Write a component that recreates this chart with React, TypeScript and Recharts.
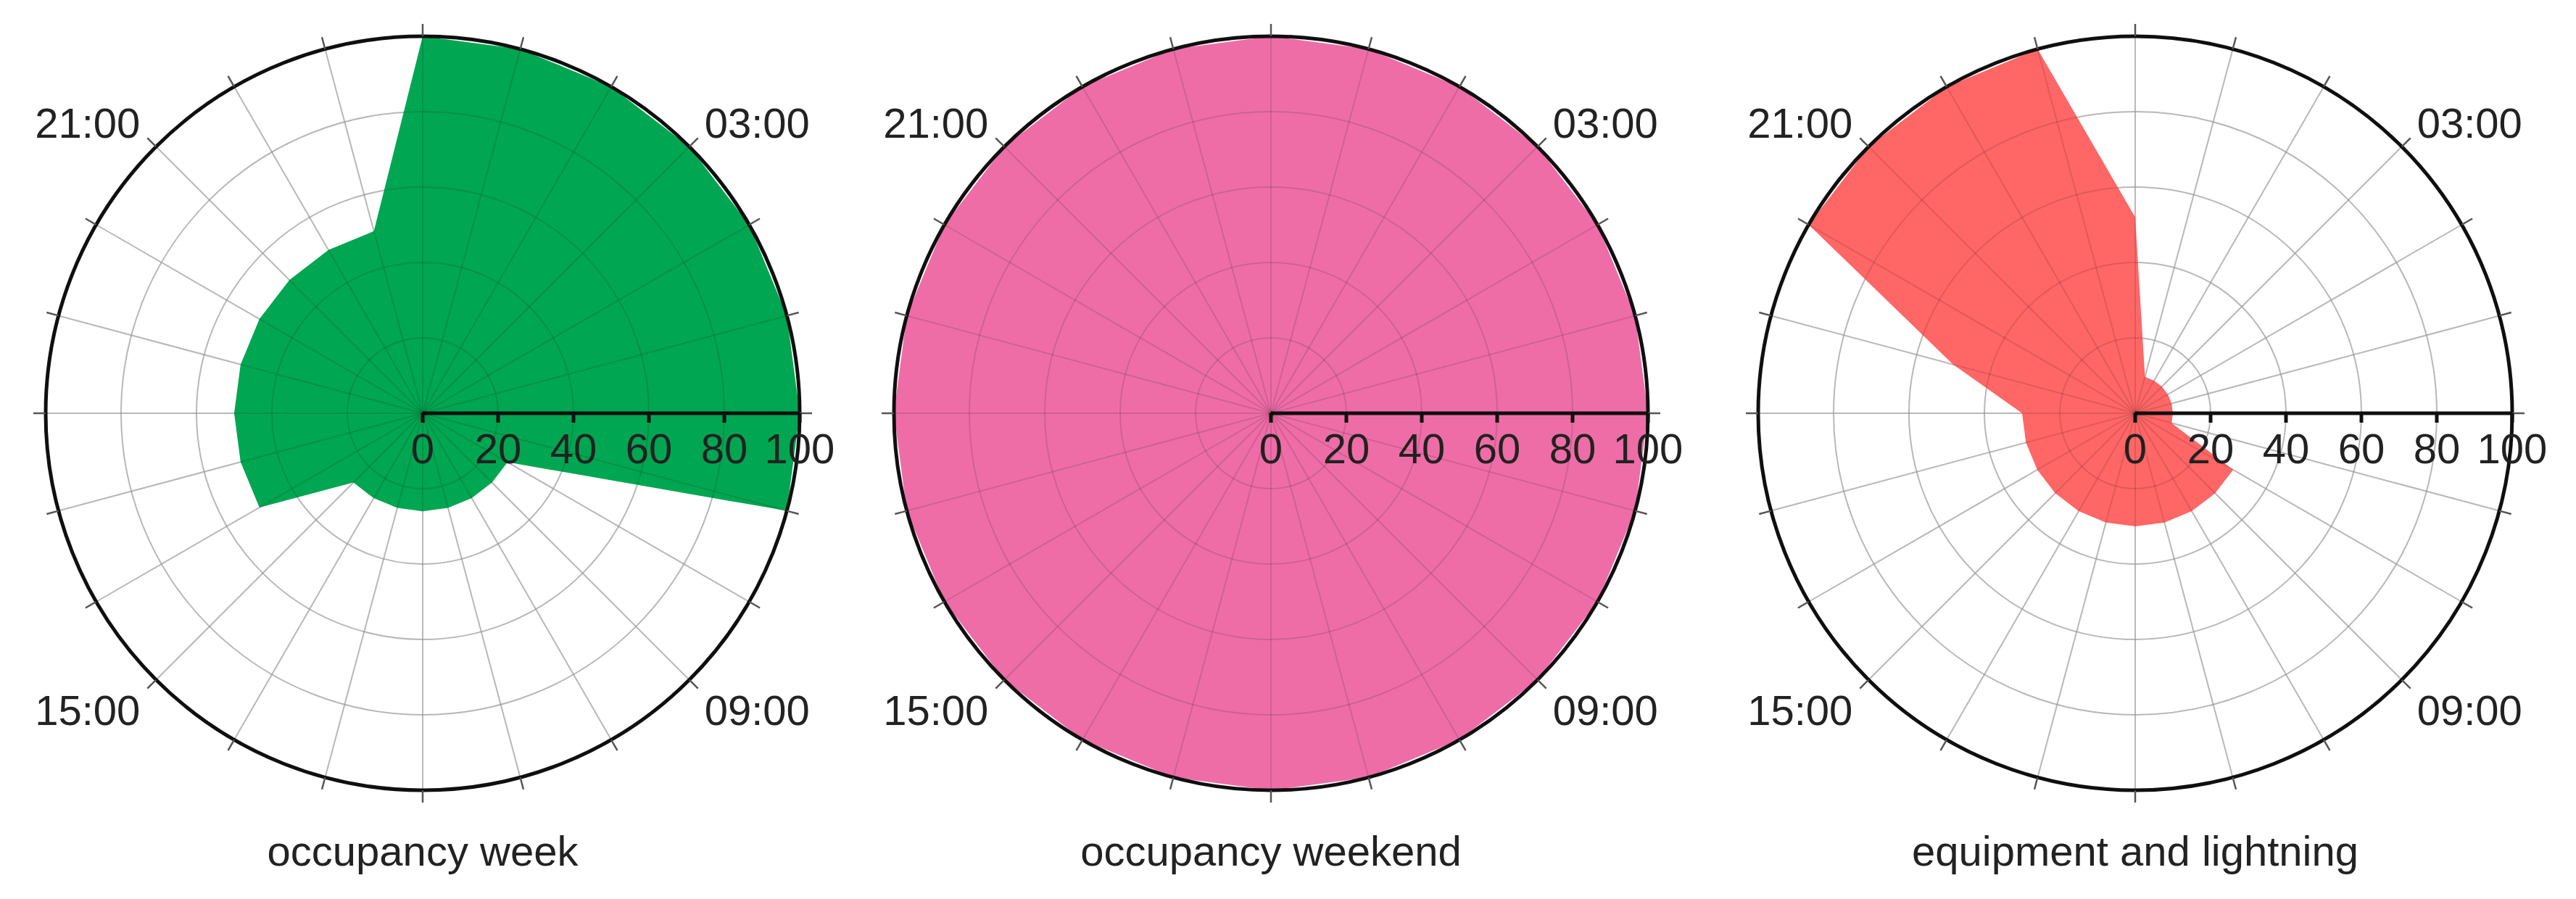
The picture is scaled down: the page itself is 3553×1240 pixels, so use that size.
import React from 'react';
import { RadarChart, Radar, PolarGrid, PolarAngleAxis, PolarRadiusAxis } from 'recharts';

const HOURS = [
  '00:00', '01:00', '02:00', '03:00', '04:00', '05:00', '06:00', '07:00',
  '08:00', '09:00', '10:00', '11:00', '12:00', '13:00', '14:00', '15:00',
  '16:00', '17:00', '18:00', '19:00', '20:00', '21:00', '22:00', '23:00',
];

const OCCUPANCY_WEEK = [100, 100, 100, 100, 100, 100, 100, 100, 26, 26, 26, 26, 26, 26, 26, 26, 50, 50, 50, 50, 50, 50, 50, 50];
const OCCUPANCY_WEEKEND = [100, 100, 100, 100, 100, 100, 100, 100, 100, 100, 100, 100, 100, 100, 100, 100, 100, 100, 100, 100, 100, 100, 100, 100];
const EQUIPMENT_LIGHTING = [52, 10, 10, 10, 10, 10, 10, 10, 30, 30, 30, 30, 30, 30, 30, 30, 30, 30, 30, 50, 100, 100, 100, 100];

const RADIUS_TICKS = [0, 20, 40, 60, 80, 100];
const LABELED_HOURS = ['03:00', '09:00', '15:00', '21:00'];

const TITLES = ['occupancy week', 'occupancy weekend', 'equipment and lightning'];
const COLORS = ['#00A651', '#EE6DA7', '#FF6666'];
const SERIES = [OCCUPANCY_WEEK, OCCUPANCY_WEEKEND, EQUIPMENT_LIGHTING];
const CENTERS_X = [583, 1753, 2945];

const FONT = '"Liberation Sans", Arial, Helvetica, sans-serif';
const CHART_W = 1200;
const CHART_H = 1240;
const CY = 570;
const OUTER_R = 520;

function AngleTick(props: any) {
  const { x, y, payload, textAnchor } = props;
  if (!LABELED_HOURS.includes(payload.value)) return <g />;
  const upper = Math.sin((payload.coordinate * Math.PI) / 180) > 0;
  const right = textAnchor === 'start';
  return (
    <text
      x={x + (right ? 9 : -10)}
      y={upper ? y : y + 50}
      textAnchor={textAnchor}
      fontSize={58}
      fontFamily={FONT}
      fill="#222"
    >
      {payload.value}
    </text>
  );
}

function RadiusTick(props: any) {
  const { x, y, payload } = props;
  return (
    <g>
      <line x1={x} y1={y} x2={x} y2={y + 13} stroke="#111" strokeWidth={5} />
      <text x={x} y={y + 69} textAnchor="middle" fontSize={58} fontFamily={FONT} fill="#222">
        {payload.value}
      </text>
    </g>
  );
}

function Polar({ idx }: { idx: number }) {
  const data = HOURS.map((h, i) => ({ hour: h, value: SERIES[idx][i] }));
  const left = CENTERS_X[idx] - CHART_W / 2;
  const common = {
    width: CHART_W,
    height: CHART_H,
    data,
    cx: CHART_W / 2,
    cy: CY,
    outerRadius: OUTER_R,
    margin: { top: 0, right: 0, bottom: 0, left: 0 },
  };
  return (
    <div style={{ position: 'absolute', left, top: 0, width: CHART_W, height: CHART_H }}>
      <div style={{ position: 'absolute', left: 0, top: 0 }}>
        <RadarChart {...common}>
          <PolarGrid gridType="circle" stroke="#d2d2d2" strokeWidth={2} />
          <Radar
            dataKey="value"
            fill={COLORS[idx]}
            fillOpacity={1}
            stroke="none"
            dot={false}
            isAnimationActive={false}
          />
          <PolarAngleAxis
            dataKey="hour"
            axisLineType="circle"
            axisLine={{ stroke: '#111', strokeWidth: 5 }}
            tickLine={{ stroke: '#555', strokeWidth: 2.5 }}
            tickSize={17}
            tick={AngleTick}
          />
          <PolarRadiusAxis
            angle={0}
            type="number"
            domain={[0, 100]}
            ticks={RADIUS_TICKS}
            axisLine={{ stroke: '#111', strokeWidth: 5 }}
            tickLine={false}
            tick={RadiusTick}
          />
        </RadarChart>
      </div>
      <div style={{ position: 'absolute', left: 0, top: 0, pointerEvents: 'none' }}>
        <RadarChart {...common}>
          <PolarGrid gridType="circle" stroke="#000" strokeOpacity={0.12} strokeWidth={2} />
          <Radar
            dataKey="value"
            fill="none"
            fillOpacity={0}
            stroke="none"
            dot={false}
            isAnimationActive={false}
          />
          <PolarAngleAxis dataKey="hour" axisLine={false} tickLine={false} tick={false} />
          <PolarRadiusAxis
            angle={0}
            type="number"
            domain={[0, 100]}
            ticks={RADIUS_TICKS}
            axisLine={false}
            tickLine={false}
            tick={false}
          />
        </RadarChart>
      </div>
      <div
        style={{
          position: 'absolute',
          left: 0,
          top: 1145,
          width: CHART_W,
          textAlign: 'center',
          fontSize: 58,
          lineHeight: '58px',
          fontFamily: FONT,
          color: '#222',
        }}
      >
        {TITLES[idx]}
      </div>
    </div>
  );
}

export default function App() {
  return (
    <div
      style={{
        position: 'absolute',
        left: 0,
        top: 0,
        width: 3553,
        height: 1240,
        background: '#fff',
        overflow: 'hidden',
      }}
    >
      {[0, 1, 2].map((i) => (
        <Polar key={i} idx={i} />
      ))}
    </div>
  );
}
